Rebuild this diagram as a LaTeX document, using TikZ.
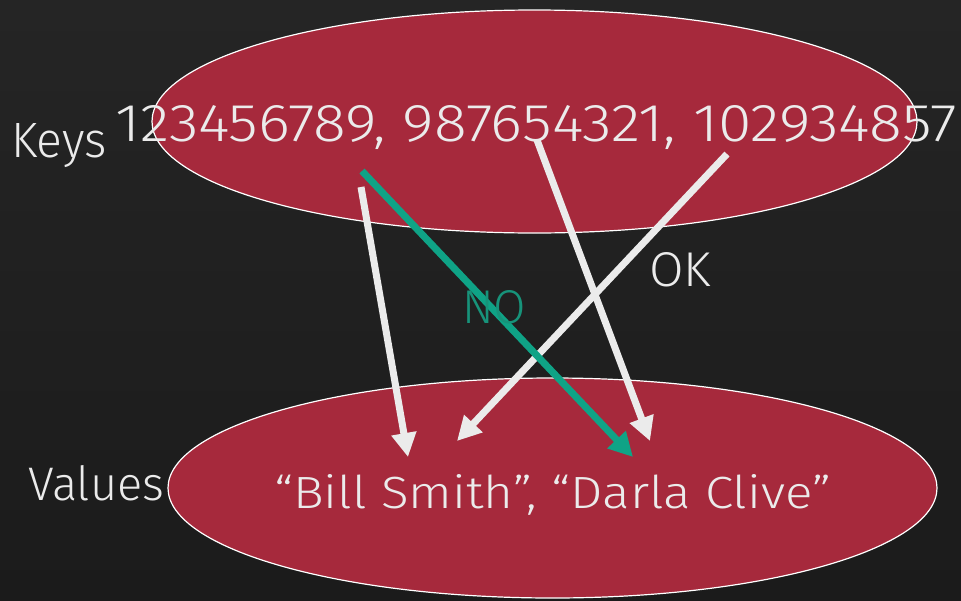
\documentclass[tikz,border=0pt]{standalone}
\usepackage{fontspec}
\setmainfont{Fira Sans Light}
\usepackage{graphicx}
\usetikzlibrary{shapes.geometric,arrows.meta}
\definecolor{bgtop}{HTML}{252525}
\definecolor{bgbot}{HTML}{1B1B1B}
\definecolor{setred}{HTML}{A6293C}
\definecolor{txt}{HTML}{EBEBEB}
\definecolor{teal}{HTML}{0FA386}
\definecolor{noteal}{HTML}{17937A}
\tikzset{
  setshape/.style={ellipse, fill=setred, draw=white, line width=1.2pt, inner sep=0pt},
  lbl/.style={text=txt, inner sep=0pt, anchor=base west, font=\fontsize{48}{50}\selectfont},
  okarrow/.style={draw=txt, line width=7pt, -{Triangle[length=24pt,width=24pt]}},
  noarrow/.style={draw=teal, line width=7pt, -{Triangle[length=24pt,width=24pt]}},
}
\begin{document}
\begin{tikzpicture}[x=1pt,y=-1pt]
\shade[top color=bgtop, bottom color=bgbot] (0,0) rectangle (961,600);
\useasboundingbox (0,0) rectangle (961,600);
\node[setshape, minimum width=765pt, minimum height=223pt] (keys) at (534.5,121.5) {};
\node[setshape, minimum width=769pt, minimum height=220pt] (vals) at (552.5,488) {};
\node[lbl] (keyslbl) at (11,157) {\resizebox{96pt}{34pt}{Keys}};
\node[lbl] (keytxt) at (115,141) {\resizebox{842pt}{36pt}{123456789, 987654321, 102934857}};
\node[lbl] (valslbl) at (28,500) {\resizebox{136pt}{35pt}{Values}};
\node[lbl] (valtxt) at (274,508) {\resizebox{557pt}{34pt}{“Bill Smith”, “Darla Clive”}};
\node[lbl] (ok) at (649,286) {\resizebox{62pt}{34pt}{OK}};
\coordinate (s1) at (361,187);
\coordinate (e1) at (408,457);
\coordinate (s2) at (537,140);
\coordinate (e2) at (650,441);
\coordinate (s3) at (727,154);
\coordinate (e3) at (457,441);
\coordinate (s4) at (362,171);
\coordinate (e4) at (633,457);
\draw[okarrow] (s1) -- (e1);
\draw[okarrow] (s2) -- (e2);
\draw[okarrow] (s3) -- (e3);
\draw[noarrow] (s4) -- (e4);
\node[lbl, text=noteal] (no) at (462,323) {\resizebox{64pt}{33pt}{NO}};
\end{tikzpicture}
\end{document}
